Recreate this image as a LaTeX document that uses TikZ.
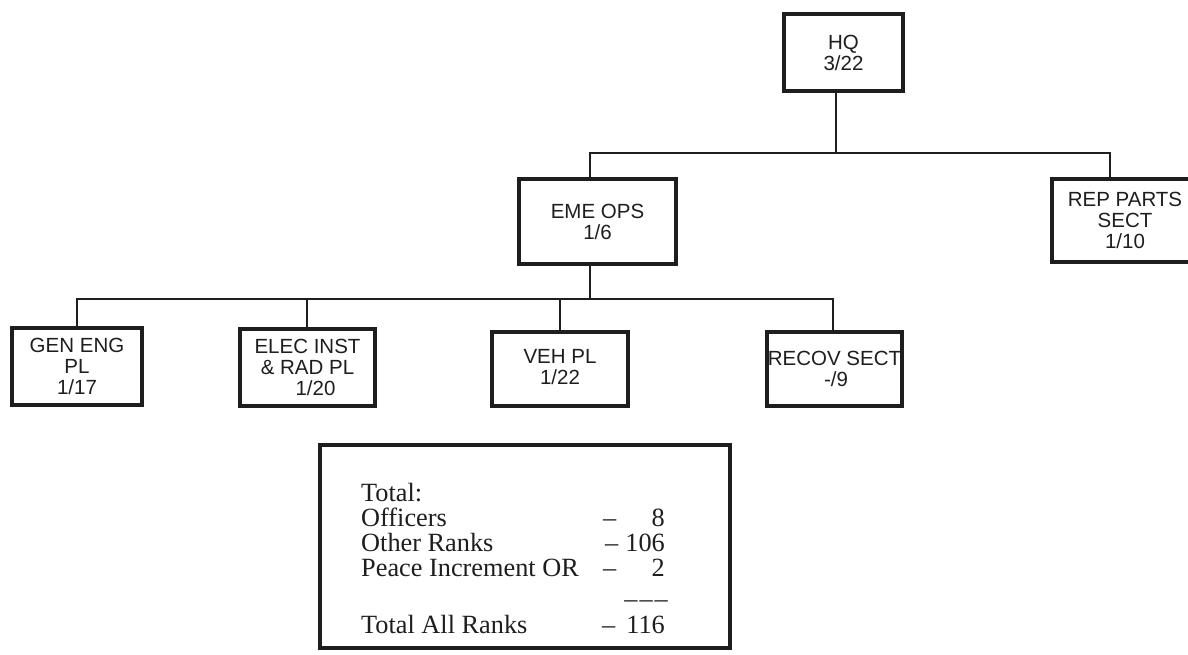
\documentclass[tikz,border=0pt]{standalone}
\usepackage{fontspec}
\setmainfont{Liberation Serif}
\setsansfont{Liberation Sans}
\definecolor{ink}{HTML}{1E1E1E}
\begin{document}
\begin{tikzpicture}[x=1pt,y=-1pt,
  unit/.style={draw=ink,line width=4pt,inner sep=0pt,align=center,text=ink,
    font=\sffamily\fontsize{20.5}{21}\selectfont},
  conn/.style={draw=ink,line width=2.2pt},
  sumtxt/.style={inner sep=0pt,text=ink,font=\rmfamily\fontsize{26.3}{25}\selectfont}]
\clip (0,0) rectangle (1188,654);
\fill[white] (0,0) rectangle (1188,654);

% units
\node[unit,minimum width=119pt,minimum height=77pt] (hq) at (843.5,52.5) {HQ\\3/22};
\node[unit,minimum width=157pt,minimum height=85pt] (eme) at (597.5,221.5) {EME OPS\\1/6};
\node[unit,minimum width=146pt,minimum height=83pt] (rep) at (1125,220.5) {REP PARTS\\SECT\\1/10};
\node[unit,minimum width=130pt,minimum height=77pt] (gen) at (77,366.5) {GEN ENG\\PL\\1/17};
\node[unit,minimum width=135pt,minimum height=77pt] (elec) at (307.5,367.5) {ELEC INST\\\& RAD PL\\\hspace*{16pt}1/20};
\node[unit,minimum width=136pt,minimum height=74pt,text depth=4pt] (veh) at (560,369) {VEH PL\\1/22};
\node[unit,minimum width=135pt,minimum height=74pt] (recov) at (834.5,369) {RECOV SECT\\\hspace*{3pt}-/9};

% connector guide coordinates
\coordinate (xa) at (836,0);
\coordinate (xb) at (590,0);
\coordinate (xc) at (1110,0);
\coordinate (xd) at (77,0);
\coordinate (xe) at (307,0);
\coordinate (xf) at (560,0);
\coordinate (xg) at (833,0);
\coordinate (bustop) at (0,153);
\coordinate (buslow) at (0,299);

\draw[conn] (hq.south -| xa) -- (bustop -| xa);
\draw[conn] (eme.north -| xb) |- (bustop -| xc) -- (rep.north -| xc);
\draw[conn] (eme.south -| xb) -- (buslow -| xb);
\draw[conn] (gen.north -| xd) |- (buslow -| xg) -- (recov.north -| xg);
\draw[conn] (elec.north -| xe) -- (buslow -| xe);
\draw[conn] (veh.north -| xf) -- (buslow -| xf);

% summary box
\node[draw=ink,line width=4pt,minimum width=410pt,minimum height=203pt,inner sep=0pt] (sum) at (525,546.5) {};
\node[sumtxt,anchor=base west] (l0) at (361,501) {Total:};
\node[sumtxt,anchor=base west] (l1) at (361,526) {Officers};
\node[sumtxt,anchor=base west] (l2) at (361,551) {Other Ranks};
\node[sumtxt,anchor=base west] (l3) at (361,576) {Peace Increment OR};
\node[sumtxt,anchor=base west] (l4) at (361,633) {Total All Ranks};
\node[sumtxt,anchor=base west] (d1) at (603,526) {\textendash};
\node[sumtxt,anchor=base west] (d2) at (605,551) {\textendash};
\node[sumtxt,anchor=base west] (d3) at (603,576) {\textendash};
\node[sumtxt,anchor=base west] (d4) at (602,633) {\textendash};
\node[sumtxt,anchor=base east] (n1) at (665,526) {8};
\node[sumtxt,anchor=base east] (n2) at (665,551) {106};
\node[sumtxt,anchor=base east] (n3) at (665,576) {2};
\node[sumtxt,anchor=base east] (n4) at (665,633) {116};
\node[sumtxt,anchor=base east] (rule) at (668,607) {\textendash\kern2pt\textendash\kern2pt\textendash};
\end{tikzpicture}
\end{document}
